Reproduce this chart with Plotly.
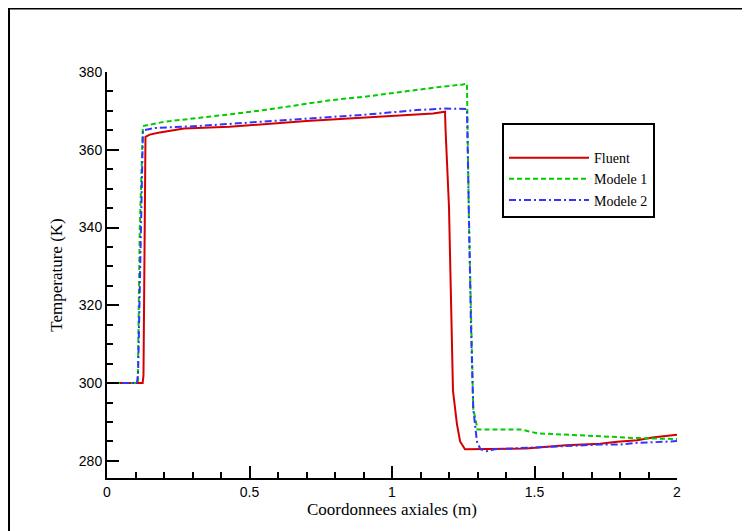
import plotly.graph_objects as go

# ---------------- data ----------------
fluent_x = [0, 0.125, 0.128, 0.135, 0.15, 0.18, 0.27, 0.43, 0.70, 0.90, 1.144, 1.186,
            1.188, 1.20, 1.206, 1.214, 1.228, 1.239, 1.256, 1.35, 1.47, 1.61, 1.73,
            1.79, 1.86, 1.92, 1.975, 2.0]
fluent_y = [300, 300, 302, 363.3, 363.9, 364.4, 365.5, 365.9, 367.4, 368.2, 369.3, 369.8,
            365, 345.2, 322, 298, 289.4, 285, 283, 283.1, 283.2, 284, 284.4,
            284.9, 285.3, 286.1, 286.5, 286.7]

modele1_x = [0, 0.108, 0.115, 0.126, 0.2, 0.3, 0.43, 0.55, 0.695, 0.79, 0.9, 1.063,
             1.15, 1.249, 1.263, 1.27, 1.277, 1.285, 1.30, 1.45, 1.51, 1.635, 1.775,
             1.85, 2.0]
modele1_y = [300, 300, 340, 366.1, 367.2, 368, 369.1, 370.2, 371.7, 372.8, 373.6, 375.2,
             376, 376.8, 377, 341, 315, 293.5, 288.1, 288.1, 287.1, 286.6, 286.2,
             285.9, 285.6]

modele2_x = [0, 0.105, 0.109, 0.118, 0.126, 0.168, 0.316, 0.5, 0.70, 0.9, 1.088, 1.18,
             1.263, 1.27, 1.277, 1.285, 1.298, 1.31, 1.333, 1.36, 1.5, 1.6, 1.73, 1.8,
             1.85, 1.95, 2.0]
modele2_y = [300, 300, 302.3, 340, 365, 365.6, 366.1, 367, 368, 369, 370.2, 370.6,
             370.5, 341, 315, 293.5, 285, 283, 282.5, 283, 283.5, 283.9, 284.2, 284.2,
             284.6, 284.9, 285.1]

x_ticks = [0, 0.5, 1, 1.5, 2]
x_tick_labels = ["0", "0.5", "1", "1.5", "2"]
y_ticks = [280, 300, 320, 340, 360, 380]
y_tick_labels = ["280", "300", "320", "340", "360", "380"]

# ---------------- figure ----------------
fig = go.Figure()
fig.add_trace(go.Scatter(x=fluent_x, y=fluent_y, mode="lines", name="Fluent",
                         line=dict(color="#d40000", width=2)))
fig.add_trace(go.Scatter(x=modele1_x, y=modele1_y, mode="lines", name="Modele 1",
                         line=dict(color="#00cc00", width=2, dash="5px,3px")))
fig.add_trace(go.Scatter(x=modele2_x, y=modele2_y, mode="lines", name="Modele 2",
                         line=dict(color="#3333ff", width=2, dash="7px,3px,2px,3px")))

axis_common = dict(showline=True, linecolor="black", linewidth=2, showgrid=False,
                   zeroline=False, ticks="inside", ticklen=12, tickwidth=2,
                   tickcolor="black", mirror=False,
                   tickfont=dict(family="Liberation Sans, Arial, sans-serif",
                                 size=14, color="black"))

fig.update_xaxes(**axis_common, range=[0, 2], tickvals=x_ticks, ticktext=x_tick_labels,
                 minor=dict(ticks="inside", ticklen=6, tickwidth=1.5, dtick=0.1,
                            tickcolor="black", showgrid=False),
                 title=dict(text="Coordonnees axiales (m)", standoff=4,
                            font=dict(family="Liberation Serif, Times New Roman, serif",
                                      size=17, color="black")))
fig.update_yaxes(**axis_common, range=[275.6, 380], tickvals=y_ticks, ticktext=y_tick_labels,
                 minor=dict(ticks="inside", ticklen=6, tickwidth=1.5, dtick=5,
                            tickcolor="black", showgrid=False),
                 title=dict(text="Temperature (K)", standoff=12,
                            font=dict(family="Liberation Serif, Times New Roman, serif",
                                      size=17, color="black")))

fig.update_layout(
    width=742, height=523,
    margin=dict(l=99, r=73, t=64, b=53, autoexpand=False),
    paper_bgcolor="white", plot_bgcolor="white",
    showlegend=True,
    legend=dict(x=0.693, y=0.874, xanchor="left", yanchor="top",
                bgcolor="white", bordercolor="black", borderwidth=2,
                font=dict(family="Liberation Serif, Times New Roman, serif",
                          size=14, color="black"),
                itemwidth=80, tracegroupgap=0,
                title=dict(text=" ", font=dict(size=13))),
    shapes=[dict(type="rect", xref="paper", yref="paper",
                 x0=-0.1719, x1=1.2, y0=-0.2, y1=1.1564,
                 line=dict(color="black", width=2), fillcolor="rgba(0,0,0,0)",
                 layer="below")],
)

fig.write_html("out.html")
